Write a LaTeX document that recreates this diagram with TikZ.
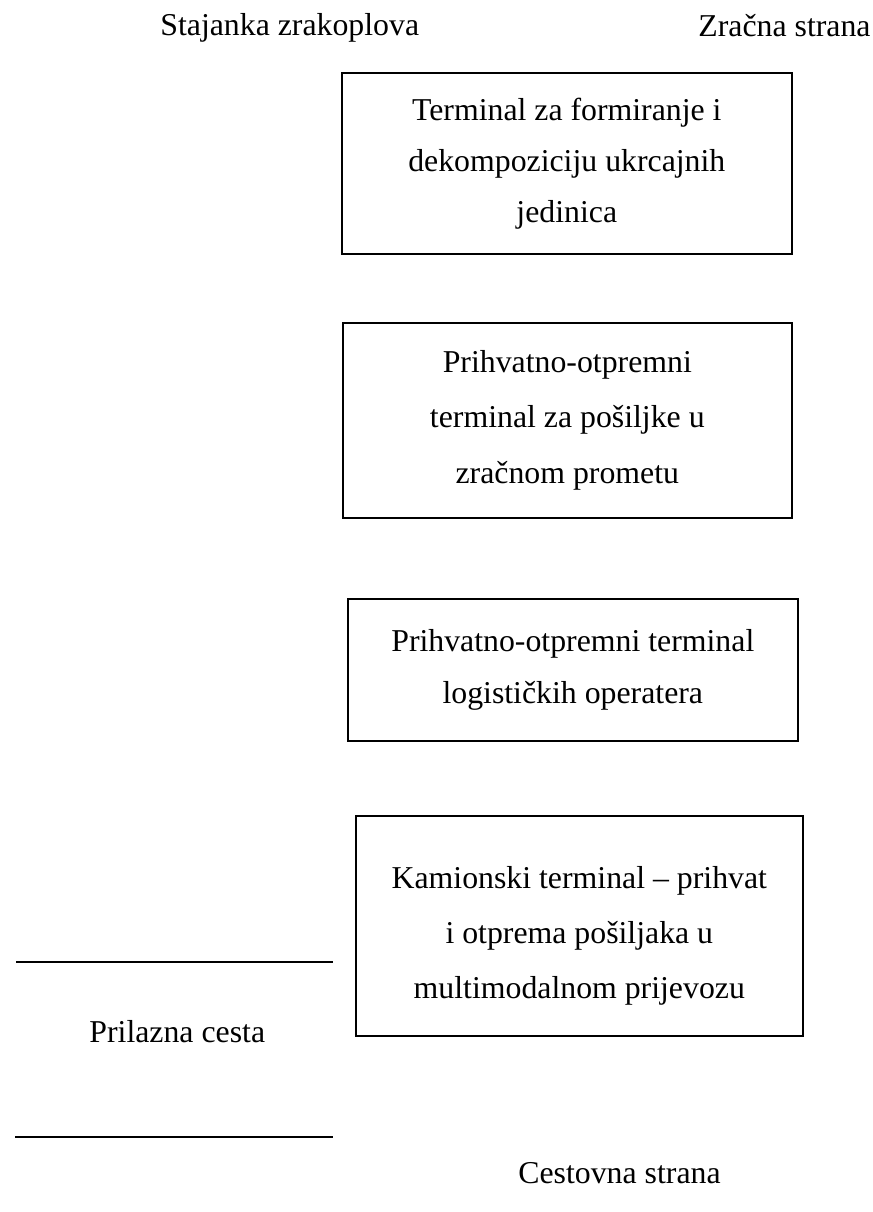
\documentclass[tikz,border=0pt]{standalone}
\usepackage{fontspec}
\setmainfont{Liberation Serif}
\begin{document}
\begin{tikzpicture}[x=0.5pt,y=-0.5pt,
  box/.style={draw, line width=0.8pt, rectangle, inner sep=0pt, anchor=north west, align=center},
  lbl/.style={inner sep=0pt, anchor=base west, font=\fontsize{15.9}{19}\selectfont},
  road/.style={line width=0.7pt}]
\useasboundingbox (0,0) rectangle (873,1212);
\node[box, minimum width=225pt, minimum height=90.5pt, font=\fontsize{15.9}{25.5}\selectfont] (b1) at (341,72)
  {Terminal za formiranje i\\dekompoziciju ukrcajnih\\jedinica};
\node[box, minimum width=224.5pt, minimum height=97.5pt, font=\fontsize{15.9}{27.7}\selectfont] (b2) at (342,322)
  {Prihvatno-otpremni\\terminal za pošiljke u\\zračnom prometu};
\node[box, minimum width=225pt, minimum height=71pt, font=\fontsize{15.9}{26}\selectfont] (b3) at (347,598)
  {Prihvatno-otpremni terminal\\logističkih operatera};
\node[box, minimum width=223.5pt, minimum height=110pt, font=\fontsize{15.9}{27.5}\selectfont] (b4) at (355,815)
  {\rule{0pt}{21pt}Kamionski terminal – prihvat\\i otprema pošiljaka u\\multimodalnom prijevozu};
\node[lbl] (stajanka) at (160,35) {Stajanka zrakoplova};
\node[lbl] (zracna) at (698,36) {Zračna strana};
\node[lbl] (prilazna) at (89,1042) {Prilazna cesta};
\node[lbl] (cestovna) at (518,1183) {Cestovna strana};
\coordinate (r1a) at (16,962);
\coordinate (r1b) at (333,962);
\coordinate (r2a) at (15,1137);
\coordinate (r2b) at (333,1137);
\draw[road] (r1a) -- (r1b);
\draw[road] (r2a) -- (r2b);
\end{tikzpicture}
\end{document}
